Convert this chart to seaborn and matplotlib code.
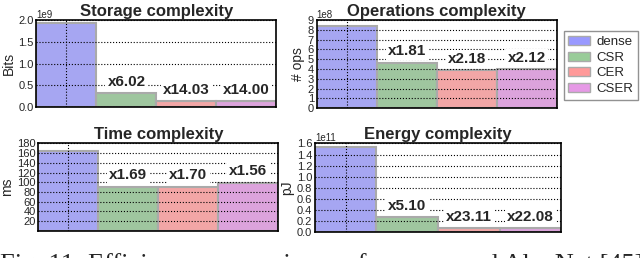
import matplotlib
matplotlib.use("Agg")
import matplotlib.pyplot as plt
import pandas as pd
import seaborn as sns
from matplotlib.patches import Patch

formats = ['dense', 'CSR', 'CER', 'CSER']
colors = ['#9999ff', '#99cc99', '#ff9999', '#e699e6']

storage_bits = [1.94e9, 0.322e9, 0.138e9, 0.139e9]
storage_labels = ['', 'x6.02', 'x14.03', 'x14.00']

ops_count = [8.4e8, 4.64e8, 3.85e8, 3.96e8]
ops_labels = ['', 'x1.81', 'x2.18', 'x2.12']

time_ms = [164, 91, 91, 99]
time_labels = ['', 'x1.69', 'x1.70', 'x1.56']

energy_pj = [1.53e11, 0.27e11, 0.066e11, 0.069e11]
energy_labels = ['', 'x5.10', 'x23.11', 'x22.08']

sns.set_style('white')
plt.rcParams['font.family'] = ['Liberation Sans', 'DejaVu Sans']

fig = plt.figure(figsize=(6.4, 2.58), dpi=100)


def panel(rect, values, labels, title, ylabel, ylim, yticks, ytick_fmt):
    ax = fig.add_axes(rect)
    df = pd.DataFrame({'fmt': formats, 'val': values})
    sns.barplot(x='fmt', y='val', data=df, hue='fmt', palette=colors, legend=False,
                width=1.0, edgecolor='#aaaaaa', linewidth=1.5, ax=ax)
    ax.set_xlim(-0.5, 3.5)
    ax.set_ylim(*ylim)
    ax.set_yticks(yticks)
    ax.set_yticklabels([ytick_fmt(t) for t in yticks], fontsize=8)
    ax.set_xticks([0])
    ax.set_xticklabels([''])
    ax.tick_params(axis='x', length=0)
    ax.tick_params(axis='y', length=0, pad=2)
    ax.grid(True, color='black', linestyle=':', linewidth=0.8)
    ax.set_axisbelow(False)
    for s in ax.spines.values():
        s.set_color('black')
        s.set_linewidth(1.2)
    ax.set_xlabel('')
    ax.set_ylabel(ylabel, fontsize=10, labelpad=2)
    ax.set_title(title, fontsize=12, fontweight='bold', pad=3)
    rng = ylim[1] - ylim[0]
    for i, (v, lab) in enumerate(zip(values, labels)):
        if lab:
            ax.text(i, v + 0.13 * rng, lab, ha='center', va='center', fontsize=11,
                    fontweight='bold', zorder=5,
                    bbox=dict(facecolor='white', edgecolor='none', pad=1.5))
    return ax


ax1 = panel([0.057, 0.585, 0.375, 0.337], storage_bits, storage_labels,
            'Storage complexity', 'Bits', (0, 2.0e9),
            [0, 0.5e9, 1.0e9, 1.5e9, 2.0e9], lambda t: '%.1f' % (t / 1e9))
ax1.text(0.0, 1.0, '1e9', transform=ax1.transAxes, fontsize=7, va='bottom', ha='left')

ax2 = panel([0.495, 0.581, 0.375, 0.341], ops_count, ops_labels,
            'Operations complexity', '# ops', (0, 9e8),
            [i * 1e8 for i in range(10)], lambda t: '%d' % round(t / 1e8))
ax2.text(0.0, 1.0, '1e8', transform=ax2.transAxes, fontsize=7, va='bottom', ha='left')

ax3 = panel([0.06, 0.105, 0.375, 0.339], time_ms, time_labels,
            'Time complexity', 'ms', (0, 180),
            list(range(20, 181, 20)), lambda t: '%d' % t)

ax4 = panel([0.492, 0.101, 0.385, 0.343], energy_pj, energy_labels,
            'Energy complexity', 'pJ', (0, 1.6e11),
            [i * 0.2e11 for i in range(9)], lambda t: '%.1f' % (t / 1e11))
ax4.text(0.0, 1.0, '1e11', transform=ax4.transAxes, fontsize=7, va='bottom', ha='left')

handles = [Patch(facecolor=c, edgecolor='#aaaaaa', label=f) for f, c in zip(formats, colors)]
fig.legend(handles=handles, loc='upper left', bbox_to_anchor=(0.881, 0.878),
           fontsize=9.5, frameon=True, edgecolor='#777777', fancybox=False,
           handlelength=1.6, handleheight=0.7, handletextpad=0.5,
           labelspacing=0.25, borderpad=0.35, borderaxespad=0)

fig.text(0.0, -0.052, 'Fig. 11: Efficiency comparisons of compressed AlexNet [45]',
         family=['Liberation Serif', 'DejaVu Serif'], fontsize=19, va='baseline', ha='left')

fig.savefig('out.png', dpi=100)
